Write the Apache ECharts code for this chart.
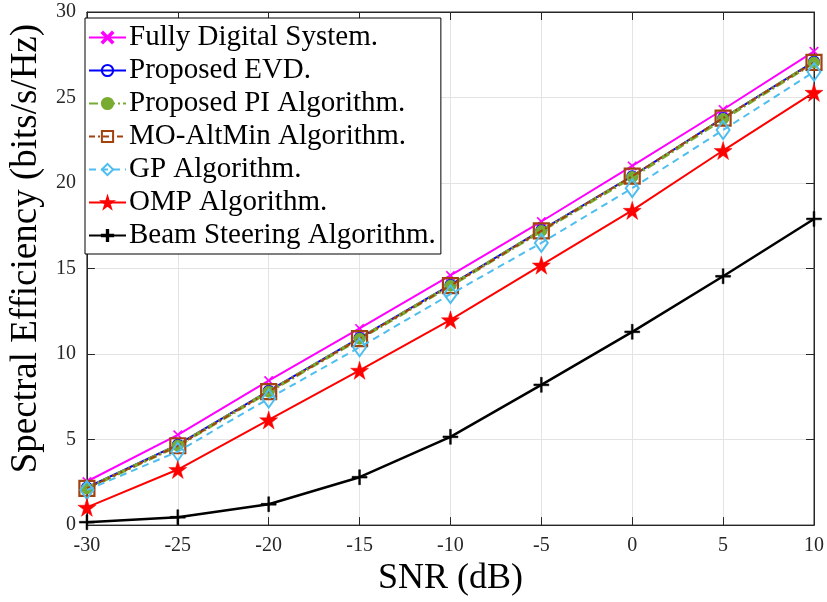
<!DOCTYPE html>
<html><head><meta charset="utf-8">
<script src="https://cdn.jsdelivr.net/npm/echarts@6/dist/echarts.min.js"></script>
<style>html,body{margin:0;padding:0;background:#fff}#c{width:827px;height:602px}</style>
</head><body><div id="c"></div>
<script>
const snr = [-30, -25, -20, -15, -10, -5, 0, 5, 10];
const yTicks = [0, 5, 10, 15, 20, 25, 30];
const seriesNames = ['Fully Digital System.', 'Proposed EVD.', 'Proposed PI Algorithm.', 'MO-AltMin Algorithm.', 'GP Algorithm.', 'OMP Algorithm.', 'Beam Steering Algorithm.'];
const fullyDigital = [2.55, 5.28, 8.45, 11.5, 14.6, 17.75, 21.0, 24.3, 27.7];
const proposedEVD = [2.2, 4.7, 7.85, 10.95, 14.05, 17.25, 20.4, 23.8, 27.1];
const proposedPI = [2.15, 4.65, 7.8, 10.9, 14.0, 17.2, 20.35, 23.75, 27.05];
const moAltMin = [2.15, 4.64, 7.8, 10.9, 14.0, 17.2, 20.4, 23.8, 27.05];
const gp = [2.05, 4.3, 7.4, 10.4, 13.5, 16.5, 19.7, 23.1, 26.5];
const omp = [1.04, 3.25, 6.15, 9.05, 12.0, 15.2, 18.4, 21.9, 25.3];
const beamSteering = [0.17, 0.46, 1.22, 2.8, 5.16, 8.2, 11.3, 14.55, 17.9];

const xPath = 'path://M1,0 L5,4 L9,0 L10,1 L6,5 L10,9 L9,10 L5,6 L1,10 L0,9 L4,5 L0,1 Z';
const plusPath = 'path://M4.4,0 H5.6 V4.4 H10 V5.6 H5.6 V10 H4.4 V5.6 H0 V4.4 H4.4 Z';
const starPath = 'path://M50,0 L61,35 L98,35 L68,57 L79,91 L50,70 L21,91 L32,57 L2,35 L39,35 Z';
const font = 'Liberation Serif';
const clear = 'rgba(255,255,255,0)';

function pairs(arr){ return snr.map((x,i)=>[x, arr[i]]); }

const defs = [
  {data: fullyDigital, color:'#FF00FF', type:'solid', symbol:xPath, size:9, fill:'#FF00FF', bw:0.5},
  {data: proposedEVD, color:'#0000FF', type:'solid', symbol:'circle', size:10, fill:clear, bw:2},
  {data: proposedPI, color:'#77AC30', type:[9,3,2,3], symbol:'circle', size:11, fill:'#77AC30', width:3.5, bw:1},
  {data: moAltMin, color:'#A2420F', type:[6,3,2,3], symbol:'rect', size:15, fill:clear, bw:2.2},
  {data: gp, color:'#4DBEEE', type:[7,5], symbol:'diamond', size:[13,18], fill:clear, bw:2},
  {data: omp, color:'#FF0000', type:'solid', symbol:starPath, size:18, fill:'#FF0000', bw:0.5},
  {data: beamSteering, color:'#000000', type:'solid', symbol:plusPath, size:15, fill:'#000000', bw:0.5, width:2.5}
];

const series = defs.map((d,i)=>({
  name: seriesNames[i], type:'line', data: pairs(d.data),
  symbol: d.symbol, symbolSize: d.size, showAllSymbol:true,
  lineStyle:{color:d.color, width:d.width||2, type:d.type},
  itemStyle:{color: d.fill, borderColor:d.color, borderWidth:d.bw},
  emphasis:{disabled:true}, animation:false, z: 2+i
}));

const axisLine = {show:true, onZero:false, lineStyle:{color:'#262626', width:1}};
const tick = {inside:true, length:8, lineStyle:{color:'#262626'}};
const chart = echarts.init(document.getElementById('c'));
chart.setOption({
  animation:false,
  backgroundColor:'#fff',
  grid:{left:73, right:9, top:12, bottom:70, show:true, borderColor:'#262626', borderWidth:1},
  legend:{
    orient:'vertical', left:85, top:18, itemWidth:37, itemHeight:14, itemGap:4,
    backgroundColor:'#fff', borderColor:'#000', borderWidth:1, padding:[5,5,4,3],
    textStyle:{fontFamily:font, fontSize:29, lineHeight:29, color:'#000', padding:[0,0,0,-2]},
    data: seriesNames
  },
  xAxis:[{
    type:'value', min:-30, max:10, interval:5, name:'SNR (dB)', nameLocation:'middle', nameGap:30,
    nameTextStyle:{fontFamily:font, fontSize:36, color:'#000'},
    axisLine:axisLine, axisTick:tick,
    axisLabel:{fontFamily:font, fontSize:20, color:'#262626', margin:11},
    splitLine:{show:true, lineStyle:{color:'#e3e3e3', width:1}}
  },{
    type:'value', position:'top', min:-30, max:10, interval:5,
    axisLine:axisLine, axisTick:tick,
    axisLabel:{show:false}, splitLine:{show:false}
  }],
  yAxis:[{
    type:'value', min:yTicks[0], max:yTicks[yTicks.length-1], interval:5,
    name:'Spectral Efficiency (bits/s/Hz)', nameLocation:'middle', nameGap:31,
    nameTextStyle:{fontFamily:font, fontSize:37, color:'#000', padding:[0,0,0,40]},
    axisLine:axisLine, axisTick:tick,
    axisLabel:{fontFamily:font, fontSize:20, color:'#262626', margin:11},
    splitLine:{show:true, lineStyle:{color:'#e3e3e3', width:1}}
  },{
    type:'value', position:'right', min:0, max:30, interval:5,
    axisLine:axisLine, axisTick:tick,
    axisLabel:{show:false}, splitLine:{show:false}
  }],
  series: series
});
</script></body></html>
